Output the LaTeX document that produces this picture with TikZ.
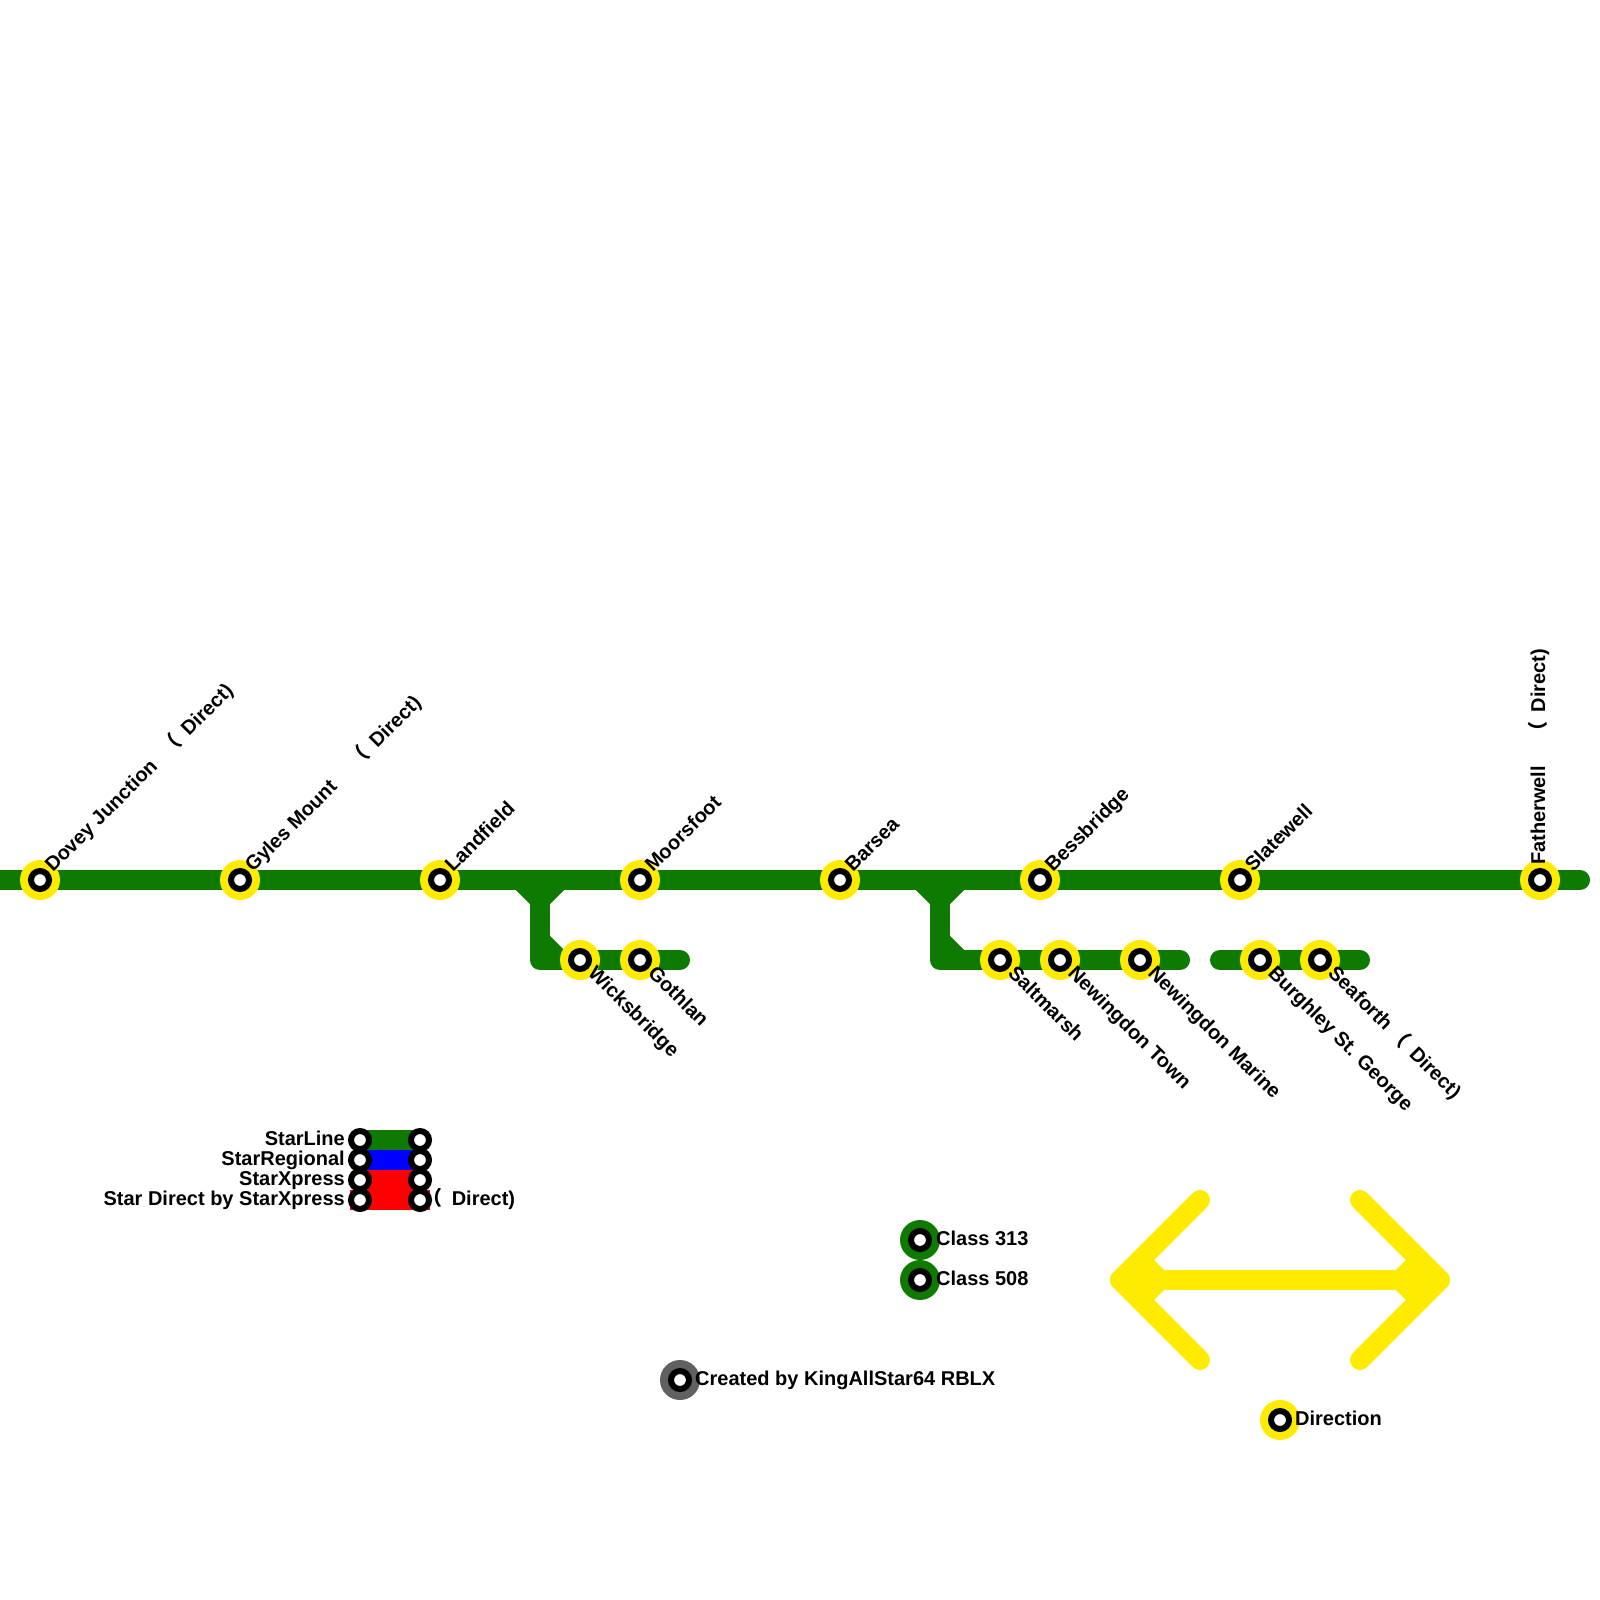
\documentclass[tikz,border=0pt]{standalone}
\usepackage{fontspec}
\setmainfont{Liberation Sans}
\newfontfamily\cjk{Noto Sans CJK SC}
\usetikzlibrary{positioning,backgrounds}
\definecolor{lineGreen}{RGB}{14,122,0}
\definecolor{lineYellow}{RGB}{255,235,0}
\definecolor{lineGrey}{RGB}{96,96,96}
\newcommand{\openparen}{{\cjk （}}
\tikzset{
  track/.style={line width=20pt, line cap=round, line join=round, draw=lineGreen},
  halo/.style={circle, inner sep=0pt, outer sep=0pt, minimum size=40pt, fill=#1},
  eye/.style={circle, inner sep=0pt, outer sep=0pt, minimum size=18pt, fill=white, draw=black, line width=6pt},
  stopname/.style={font=\fontsize{20pt}{20pt}\selectfont\bfseries, inner sep=0pt, text=black},
}
\begin{document}
\begin{tikzpicture}[x=1pt,y=-1pt]
  \useasboundingbox (0,0) rectangle (1600,1600);
  % stations on the main line
  \foreach \nm/\px in {dovey/40,gyles/240,landfield/440,moorsfoot/640,barsea/840,bessbridge/1040,slatewell/1240,fatherwell/1540}{
    \node[halo=lineYellow] (\nm) at (\px,880) {};
    \node[eye] at (\nm) {};
  }
  % stations on the branches
  \foreach \nm/\px in {wicksbridge/580,gothlan/640,saltmarsh/1000,newtown/1060,newmarine/1140,burghley/1260,seaforth/1320}{
    \node[halo=lineYellow] (\nm) at (\px,960) {};
    \node[eye] at (\nm) {};
  }
  % tracks
  \begin{scope}[on background layer]
    \coordinate (mainw) at (-20,880);
    \coordinate (maine) at (1580,880);
    \draw[track] (mainw) -- (maine);
    \coordinate (jcta) at (540,900);
    \coordinate (jctb) at (940,900);
    \draw[track] (520,880) -- (jcta) -- (560,880);
    \draw[track] (920,880) -- (jctb) -- (960,880);
    \coordinate (enda) at (680,960);
    \coordinate (endb) at (1180,960);
    \draw[track] (jcta) -- (540,960) -- (enda);
    \draw[track] (540,940) -- (560,960);
    \draw[track] (jctb) -- (940,960) -- (endb);
    \draw[track] (940,940) -- (960,960);
    \coordinate (startc) at (1220,960);
    \coordinate (endc) at (1360,960);
    \draw[track] (startc) -- (endc);
  \end{scope}
  % names, going up
  \node[stopname, rotate=45, anchor=base west] (doveyname) at (53,873) {Dovey Junction\hspace{14pt}\openparen\hspace{4pt} Direct)};
  \node[stopname, rotate=45, anchor=base west] (gylesname) at (253,873) {Gyles Mount\hspace{26pt}\openparen\hspace{4pt} Direct)};
  \node[stopname, rotate=45, anchor=base west] (landfieldname) at (453,873) {Landfield};
  \node[stopname, rotate=45, anchor=base west] (moorsfootname) at (653,873) {Moorsfoot};
  \node[stopname, rotate=45, anchor=base west] (barseaname) at (853,873) {Barsea};
  \node[stopname, rotate=45, anchor=base west] (bessbridgename) at (1053,873) {Bessbridge};
  \node[stopname, rotate=45, anchor=base west] (slatewellname) at (1253,873) {Slatewell};
  \node[stopname, rotate=90, anchor=base west] (fatherwellname) at (1545,865) {Fatherwell\hspace{24pt}\openparen\hspace{4pt} Direct)};
  % names, going down
  \node[stopname, rotate=-45, anchor=base west] (wicksbridgename) at (587,974) {Wicksbridge};
  \node[stopname, rotate=-45, anchor=base west] (gothlanname) at (647,974) {Gothlan};
  \node[stopname, rotate=-45, anchor=base west] (saltmarshname) at (1007,974) {Saltmarsh};
  \node[stopname, rotate=-45, anchor=base west] (newtownname) at (1067,974) {Newingdon Town};
  \node[stopname, rotate=-45, anchor=base west] (newmarinename) at (1147,974) {Newingdon Marine};
  \node[stopname, rotate=-45, anchor=base west] (burghleyname) at (1267,974) {Burghley St. George};
  \node[stopname, rotate=-45, anchor=base west] (seaforthname) at (1327,974) {Seaforth\hspace{4pt}\openparen\hspace{4pt} Direct)};
  % legend of services
  \fill[lineGreen] (360,1130) rectangle (420,1150);
  \fill[blue] (360,1150) rectangle (420,1170);
  \fill[red] (360,1170) rectangle (420,1190);
  \fill[red] (350,1190) rectangle (430,1210);
  \foreach \nm/\py in {starline/1140,starregional/1160,starxpress/1180,stardirect/1200}{
    \node[eye] (\nm w) at (360,\py) {};
    \node[eye] (\nm e) at (420,\py) {};
  }
  \node[stopname, anchor=base east] (starlinename) at (345,1145) {StarLine};
  \node[stopname, anchor=base east] (starregionalname) at (345,1165) {StarRegional};
  \node[stopname, anchor=base east] (starxpressname) at (345,1185) {StarXpress};
  \node[stopname, anchor=base east] (stardirectname) at (345,1205) {Star Direct by StarXpress};
  \node[stopname, anchor=base west] (directname) at (422,1205.5) {\openparen\hspace{4pt} Direct)};
  % legend of rolling stock
  \node[halo=lineGreen] (classa) at (920,1240) {};
  \node[eye] at (classa) {};
  \node[halo=lineGreen] (classb) at (920,1280) {};
  \node[eye] at (classb) {};
  \node[stopname, anchor=base west] (classaname) at (936,1245) {Class 313};
  \node[stopname, anchor=base west] (classbname) at (936,1285) {Class 508};
  \node[halo=lineGrey] (credit) at (680,1380) {};
  \node[eye] at (credit) {};
  \node[stopname, anchor=base west] (creditname) at (695,1385) {Created by KingAllStar64 RBLX};
  % direction arrow
  \begin{scope}[track/.append style={draw=lineYellow}]
    \coordinate (arrowl) at (1120,1280);
    \coordinate (arrowr) at (1440,1280);
    \draw[track] (arrowl) -- (arrowr);
    \draw[track] (1200,1200) -- (arrowl) -- (1200,1360);
    \draw[track] (1360,1200) -- (arrowr) -- (1360,1360);
    \draw[track] (1140,1260) -- (1160,1280) -- (1140,1300);
    \draw[track] (1420,1260) -- (1400,1280) -- (1420,1300);
  \end{scope}
  \node[halo=lineYellow] (direction) at (1280,1420) {};
  \node[eye] at (direction) {};
  \node[stopname, anchor=base west] (directionname) at (1295,1425) {Direction};
\end{tikzpicture}
\end{document}
